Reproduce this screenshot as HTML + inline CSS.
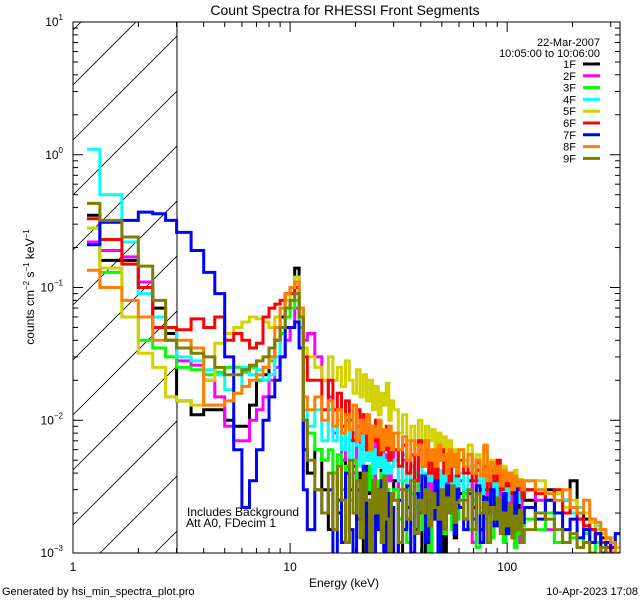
<!DOCTYPE html>
<html><head><meta charset="utf-8"><style>
html,body{margin:0;padding:0;background:#fff;width:640px;height:600px;overflow:hidden}
svg{display:block;font-family:"Liberation Sans",sans-serif}
</style></head><body>
<svg id="chart" width="640" height="600" xmlns="http://www.w3.org/2000/svg">
<rect width="640" height="600" fill="#fff"/>
<defs><clipPath id="plotclip"><rect x="73" y="22" width="547" height="531"/></clipPath>
<clipPath id="hatchclip"><rect x="73" y="22" width="104" height="531"/></clipPath></defs>
<text x="345" y="15" text-anchor="middle" font-size="14">Count Spectra for RHESSI Front Segments</text>
<g id="hatch" clip-path="url(#hatchclip)"></g>
<line x1="177" y1="22" x2="177" y2="553" stroke="#000" stroke-width="1"/>
<g id="series" clip-path="url(#plotclip)"></g>
<rect x="73" y="22" width="547" height="531" fill="none" stroke="#000" stroke-width="1"/>
<g id="axes"></g>
<text x="344" y="587" text-anchor="middle" font-size="12">Energy (keV)</text>
<text transform="translate(34,287) rotate(-90)" text-anchor="middle" font-size="12">counts cm<tspan font-size="8" dy="-5">−2</tspan><tspan dy="5"> s</tspan><tspan font-size="8" dy="-5">−1</tspan><tspan dy="5"> keV</tspan><tspan font-size="8" dy="-5">−1</tspan></text>
<text x="600" y="46" text-anchor="end" font-size="11">22-Mar-2007</text>
<text x="600" y="57" text-anchor="end" font-size="11">10:05:00 to 10:06:00</text>
<g id="legend"></g>
<text x="187" y="516" font-size="12">Includes Background</text>
<text x="186" y="527" font-size="12">Att A0, FDecim 1</text>
<text x="2" y="595" font-size="11">Generated by hsi_min_spectra_plot.pro</text>
<text x="638" y="595" text-anchor="end" font-size="11">10-Apr-2023 17:08</text>
</svg>
<script>
const edges=[1.16,1.33,1.68,2.0,2.33,2.67,3.0,3.5,4,4.5,5,5.5,6,6.5,7,7.5,8,8.5,9,9.5,10,10.5,11,11.5,12,13,14,15,
15.75,16.5,17.25,18,18.75,19.5,20.25,21,21.75,22.5,23.25,24,24.75,25.5,26.25,27,27.75,28.5,29.25,30,
31.5,33,34.5,36,37.5,39,40.5,42,43.5,45,46.5,48,49.5,51,52.5,54,55.5,57,58.5,60,
63,66,69,72,75,78,81,84,87,90,93,96,99,102,105,108,111,114,117,120,
135,150,165,180,195,210,225,240,255,270,285,300,315,330];
const segNames=["1F","2F","3F","4F","5F","6F","7F","8F","9F"];
const segColors=["#000000","#ff00ff","#00ff00","#00ffff","#d2d200","#ff0000","#0000ff","#ff8000","#808000"];
const s1F=[.35,.16,.16,.1,.07,.045, .014,.011,.012,.012,.01,.009,.009,.013,.02,.022,.03,.04,.06,.09,.1,.14,.07,.006, .004,.006,.003,
.0015,.004,.002,.005,.0012,.003,.0045,.0018,.004,.001,.0028,.0045,.0008,.003,.002,.0042,.0015,.003,.0007,.0025,
.0035,.0009,.003,.0022,.0045,.0015,.0032,.0007,.0025,.004,.0018,.0035,.0012,.003,.0009,.0038,.0022,.0032,.0013,.0035,
.0028,.0018,.0035,.0022,.0042,.0015,.003,.0025,.0038,.0018,.0032,.0024,.0016,.0035,.0022,.0028,.0018,.003,.0021,.0026,
.0025,.002,.003,.002,.0025,.0035,.002,.0018,.0015,.0012,.0013,.001,.0012,.0011];
const s2F=[.22,.19,.17,.11,.05,.04, .028,.026,.02,.015,.009,.007,.007,.01,.012,.015,.02,.025,.03,.04,.05,.07,.06,.04, .045,.03,.02,
.015,.008,.012,.005,.01,.007,.004,.009,.006,.011,.005,.008,.003,.007,.0045,.006,.0025,.0055,.0035,.0045,
.006,.003,.005,.0012,.0045,.0035,.006,.002,.004,.0008,.0035,.005,.0025,.004,.0015,.0045,.003,.0038,.002,.0042,
.0035,.0025,.004,.0012,.0035,.003,.0045,.002,.003,.0025,.0038,.0015,.0028,.0022,.0035,.0018,.0025,.0012,.002,.0028,
.003,.0025,.0015,.002,.0025,.002,.0018,.0015,.0012,.0014,.0011,.0012,.001,.0009];
const s3F=[.28,.13,.06,.04,.035,.03, .025,.024,.022,.023,.025,.025,.023,.025,.02,.025,.028,.03,.045,.06,.07,.08,.05,.01, .008,.006,.005,
.006,.004,.0055,.003,.0045,.0025,.005,.0035,.002,.004,.003,.0045,.0018,.0035,.0025,.004,.0015,.003,.0022,.0028,
.003,.0018,.0035,.0012,.0028,.0022,.0038,.0015,.003,.0009,.0025,.0032,.002,.0028,.0014,.003,.0022,.0015,.0025,.0018,
.0022,.0028,.0015,.0025,.0011,.0022,.0018,.0026,.0013,.002,.0016,.0024,.0012,.0019,.0015,.0022,.0011,.0018,.0014,.0016,
.0018,.0015,.002,.0012,.0015,.0013,.0011,.0014,.001,.0012,.001,.0009,.0011,.001];
const s4F=[1.1,.5,.22,.09,.06,.05, .03,.028,.024,.022,.017,.016,.025,.022,.024,.02,.022,.03,.05,.07,.09,.12,.06,.012, .009,.012,.007,
.012,.007,.01,.006,.009,.005,.008,.0065,.0045,.008,.005,.007,.004,.006,.0045,.0055,.0035,.005,.004,.0045,
.005,.0035,.0055,.003,.0045,.004,.005,.0028,.004,.0035,.0048,.003,.0042,.0025,.004,.0035,.0045,.0028,.0038,.0032,
.004,.003,.0045,.0035,.005,.0028,.0038,.0032,.0042,.0025,.0035,.003,.0038,.0025,.0032,.0028,.0035,.0024,.003,.0027,
.0035,.003,.0025,.003,.0025,.002,.0022,.002,.0018,.0016,.0015,.0013,.0012,.001];
const s5F=[.28,.14,.06,.032,.025,.015, .014,.013,.02,.038,.045,.05,.055,.06,.058,.055,.05,.06,.07,.08,.09,.12,.07,.035, .03,.025,.02,
.03,.02,.025,.018,.028,.02,.016,.024,.015,.022,.014,.02,.012,.018,.011,.016,.013,.019,.01,.014,
.012,.008,.011,.007,.009,.0065,.01,.006,.009,.007,.0085,.0055,.008,.006,.0075,.005,.007,.0055,.006,.0045,
.006,.005,.0065,.0045,.0055,.004,.006,.0038,.005,.0042,.0048,.0035,.0045,.0038,.004,.0032,.0042,.003,.0036,.0032,
.003,.0035,.0025,.0028,.0022,.0025,.002,.002,.0017,.0015,.0014,.0012,.0013,.0011];
const s6F=[.33,.23,.15,.1,.05,.05, .048,.058,.05,.06,.04,.045,.04,.035,.038,.06,.07,.075,.08,.09,.09,.1,.06,.03, .02,.02,.012,
.02,.012,.016,.009,.014,.01,.007,.012,.008,.011,.006,.009,.007,.01,.0055,.008,.006,.009,.005,.007,
.006,.0045,.0065,.004,.0055,.0035,.007,.0045,.006,.004,.0055,.0035,.005,.006,.004,.0055,.0035,.005,.0045,.0038,
.005,.004,.0055,.0035,.0048,.0038,.0045,.003,.0042,.0035,.005,.003,.0038,.0032,.004,.0028,.0035,.003,.0032,.0026,
.003,.0028,.0025,.003,.002,.0022,.0018,.0016,.0015,.0014,.0012,.0011,.001,.0009];
const s7F=[.21,.31,.32,.37,.36,.32, .26,.19,.13,.09,.03,.006,.0022,.0035,.006,.01,.015,.02,.03,.05,.05,.055,.035,.003, .0015,.003,.002,
.003,.0008,.0025,.0012,.004,.0015,.0009,.003,.0018,.0045,.001,.0025,.0007,.003,.0015,.0035,.0009,.0028,.0012,.0022,
.0008,.0025,.0015,.0032,.001,.0028,.002,.0038,.0012,.0025,.0018,.0035,.0009,.0028,.0016,.0032,.002,.0026,.0014,.003,
.0022,.0015,.0028,.0018,.0032,.0012,.0026,.002,.003,.0016,.0025,.0019,.0028,.0014,.0022,.0018,.0035,.0015,.002,.0017,
.0022,.0018,.0025,.002,.0015,.0018,.0013,.0015,.0012,.0014,.001,.0012,.0011,.0014];
const s8F=[.135,.1,.08,.06,.04,.04, .04,.035,.013,.013,.014,.016,.018,.02,.022,.025,.03,.05,.07,.09,.1,.11,.07,.015, .012,.015,.01,
.014,.009,.012,.008,.011,.0085,.013,.007,.01,.008,.011,.006,.009,.0075,.01,.006,.0085,.0065,.009,.006,
.008,.006,.0075,.005,.007,.0055,.0065,.0045,.007,.005,.006,.0045,.0065,.005,.0055,.004,.006,.0045,.0055,.004,
.006,.0045,.0055,.004,.005,.0038,.0065,.0035,.0048,.004,.0045,.0032,.0042,.0035,.004,.003,.0038,.0032,.0035,.003,
.0035,.003,.0028,.0025,.003,.0022,.002,.0025,.0018,.0017,.0015,.0013,.0012,.001];
const s9F=[.43,.32,.24,.145,.08,.04, .035,.032,.03,.025,.022,.022,.024,.026,.028,.03,.035,.04,.05,.07,.08,.09,.06,.01, .005,.003,.002,
.004,.0015,.0045,.0025,.0012,.005,.002,.0035,.0013,.004,.0025,.0009,.0035,.002,.003,.0012,.0038,.0018,.0008,.0028,
.0025,.0012,.003,.0018,.0035,.0014,.0025,.002,.003,.0016,.0028,.0022,.0018,.003,.0015,.0026,.002,.0032,.0017,.0024,
.0025,.0018,.003,.0015,.0028,.002,.0024,.0012,.0022,.0018,.0026,.0014,.002,.0016,.0023,.0013,.0019,.0015,.0021,.0012,
.0015,.002,.0018,.0015,.0012,.0014,.0011,.0012,.001,.0009,.0011,.001,.0009,.0008];
const seriesValues=[s1F,s2F,s3F,s4F,s5F,s6F,s7F,s8F,s9F];
const xTickLabels=["1","10","100"];
const yTickExps=["1","0","−1","−2","−3"];

const NS="http://www.w3.org/2000/svg";
const X0=73,X1=620,Y0=22,Y1=553,XMIN=1,XMAX=331,YMIN=1e-3,YMAX=10;
function xs(e){return X0+(Math.log10(e)-Math.log10(XMIN))/(Math.log10(XMAX)-Math.log10(XMIN))*(X1-X0);}
function ys(v){v=Math.max(v,1e-4);return Y1-(Math.log10(v)-Math.log10(YMIN))/(Math.log10(YMAX)-Math.log10(YMIN))*(Y1-Y0);}
function mk(tag,attrs,parent){const el=document.createElementNS(NS,tag);for(const k in attrs)el.setAttribute(k,attrs[k]);parent.appendChild(el);return el;}

const hatch=document.getElementById('hatch');
for(let k=-12;k<12;k++){
  const yb=85+k*55;
  const ln=mk('line',{x1:73,y1:yb,x2:73+600,y2:yb-600,stroke:'#000','stroke-width':0.8},hatch);
  
  
}

const sg=document.getElementById('series');
seriesValues.forEach((vals,i)=>{
  let d='';
  vals.forEach((v,j)=>{
    if(j+1>=edges.length)return;
    const xa=xs(edges[j]).toFixed(1),xb=xs(edges[j+1]).toFixed(1),y=ys(v).toFixed(1);
    d+=(j===0?'M':'L')+xa+','+y+'L'+xb+','+y;
  });
  const p=mk('path',{d:d,fill:'none',stroke:segColors[i],'stroke-width':3,'stroke-linejoin':'miter'},sg);
  
  
});

const ax=document.getElementById('axes');
for(let dec=0;dec<3;dec++){
  for(let m=1;m<10;m++){
    const e=Math.pow(10,dec)*m; if(e>XMAX)break;
    const x=xs(e),L=(m===1)?10:5;
    const t1=mk('line',{x1:x,y1:Y1,x2:x,y2:Y1-L,stroke:'#000'},ax);
    
    
    const t2=mk('line',{x1:x,y1:Y0,x2:x,y2:Y0+L,stroke:'#000'},ax);
    
    
  }
}
xTickLabels.forEach((lab,i)=>{
  const t=mk('text',{x:xs(Math.pow(10,i)),y:571,'text-anchor':'middle','font-size':12},ax);
  t.textContent=lab;
  
  
});
for(let dec=-3;dec<1;dec++){
  for(let m=1;m<10;m++){
    const v=Math.pow(10,dec)*m,y=ys(v),L=(m===1)?10:5;
    const t1=mk('line',{x1:X0,y1:y,x2:X0+L,y2:y,stroke:'#000'},ax);
    
    
    const t2=mk('line',{x1:X1,y1:y,x2:X1-L,y2:y,stroke:'#000'},ax);
    
    
  }
}
yTickExps.forEach((ex,i)=>{
  const y=ys(Math.pow(10,1-i));
  const t=mk('text',{x:63,y:y+4,'text-anchor':'end','font-size':12},ax);
  t.innerHTML='10<tspan font-size="8" dy="-6">'+ex+'</tspan>';
  
  
});

const lg=document.getElementById('legend');
segNames.forEach((n,i)=>{
  const y=64+i*11.8;
  const t=mk('text',{x:576,y:y+4,'text-anchor':'end','font-size':11},lg);
  t.textContent=n;
  
  
  const l=mk('line',{x1:583,y1:y,x2:600,y2:y,stroke:segColors[i],'stroke-width':3},lg);
  
  
});
</script>
</body></html>
